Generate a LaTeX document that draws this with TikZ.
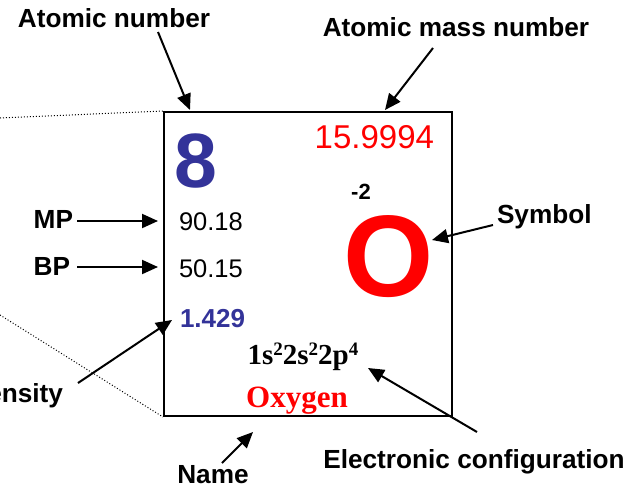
\documentclass[tikz,border=0pt]{standalone}
\usepackage{fontspec}
\setmainfont{Liberation Sans}
\newfontfamily\timesfont{Liberation Serif}
\usetikzlibrary{arrows.meta}
\usepackage{xcolor}
\definecolor{numblue}{HTML}{333399}
\definecolor{symred}{HTML}{FF0000}

\newcommand{\fsz}[1]{\fontsize{#1}{#1}\selectfont}
\newcommand{\sps}[1]{\raisebox{9pt}{\fsz{19}#1}}

\begin{document}
\begin{tikzpicture}[x=1pt,y=-1pt,
  txt/.style={inner sep=0pt, outer sep=0pt},
  lbl/.style={txt, font=\fsz{26.2}\bfseries},
  pointer/.style={line width=2pt, -{Triangle[length=16pt,width=14pt]}},
  zoomline/.style={line width=1pt, dotted}]

  \useasboundingbox (0,0) rectangle (631,490);

  % Element cell
  \node[draw, line width=2pt, minimum width=288, minimum height=304, inner sep=0pt]
    (cell) at (308,264) {};
  \coordinate (zoomtop) at (0,118);
  \coordinate (zoombot) at (0,315);
  \draw[zoomline] (zoomtop) -- (cell.north west);
  \draw[zoomline] (zoombot) -- (cell.south west);

  % Cell contents
  \node[txt, anchor=base west, text=numblue, font=\fsz{77}\bfseries] (znum) at (174,187) {8};
  \node[txt, anchor=base east, text=symred, font=\fsz{33}] (mass) at (434,148) {15.9994};
  \node[txt, anchor=base, font=\fsz{22}\bfseries] (charge) at (361,199) {-2};
  \node[txt, anchor=base, text=symred, font=\fsz{116}\bfseries] (symb) at (389,296) {O};
  \node[txt, anchor=base west, font=\fsz{25.5}] (mpval) at (179,230) {90.18};
  \node[txt, anchor=base west, font=\fsz{25.5}] (bpval) at (179,277) {50.15};
  \node[txt, anchor=base west, text=numblue, font=\fsz{26}\bfseries] (dens) at (180,327) {1.429};
  \node[txt, anchor=base, font=\timesfont\fsz{29}\bfseries] (config) at (303,364)
    {1s\sps{2}2s\sps{2}2p\sps{4}};
  \node[txt, anchor=base, text=symred, font=\timesfont\fsz{31}\bfseries] (ename) at (297,407) {Oxygen};

  % Labels
  \node[lbl, anchor=base] (lnum) at (114,27) {Atomic number};
  \node[lbl, anchor=base] (lmass) at (456,36) {Atomic mass number};
  \node[lbl, anchor=base east] (lmp) at (73,228) {MP};
  \node[lbl, anchor=base east] (lbp) at (70,275) {BP};
  \node[lbl, anchor=base west] (lsym) at (497,223) {Symbol};
  \node[lbl, anchor=base east] (ldens) at (63,402) {Density};
  \node[lbl, anchor=base] (lname) at (213,483) {Name};
  \node[lbl, anchor=base] (lconf) at (474,468) {Electronic configuration};

  % Pointer ends
  \coordinate (numtail) at (158,32);   \coordinate (numhead) at (190,110);
  \coordinate (masstail) at (433,48);  \coordinate (masshead) at (385,110);
  \coordinate (mptail) at (77,221);    \coordinate (mphead) at (158,221);
  \coordinate (bptail) at (77,267);    \coordinate (bphead) at (158,267);
  \coordinate (symtail) at (493,225);  \coordinate (symhead) at (432,240);
  \coordinate (denstail) at (78,383);  \coordinate (denshead) at (172,320);
  \coordinate (nametail) at (222,463); \coordinate (namehead) at (253,432);
  \coordinate (conftail) at (477,432); \coordinate (confhead) at (368,368);

  % Pointers
  \draw[pointer] (numtail) -- (numhead);
  \draw[pointer] (masstail) -- (masshead);
  \draw[pointer] (mptail) -- (mphead);
  \draw[pointer] (bptail) -- (bphead);
  \draw[pointer] (symtail) -- (symhead);
  \draw[pointer] (denstail) -- (denshead);
  \draw[pointer] (nametail) -- (namehead);
  \draw[pointer] (conftail) -- (confhead);

\end{tikzpicture}
\end{document}
